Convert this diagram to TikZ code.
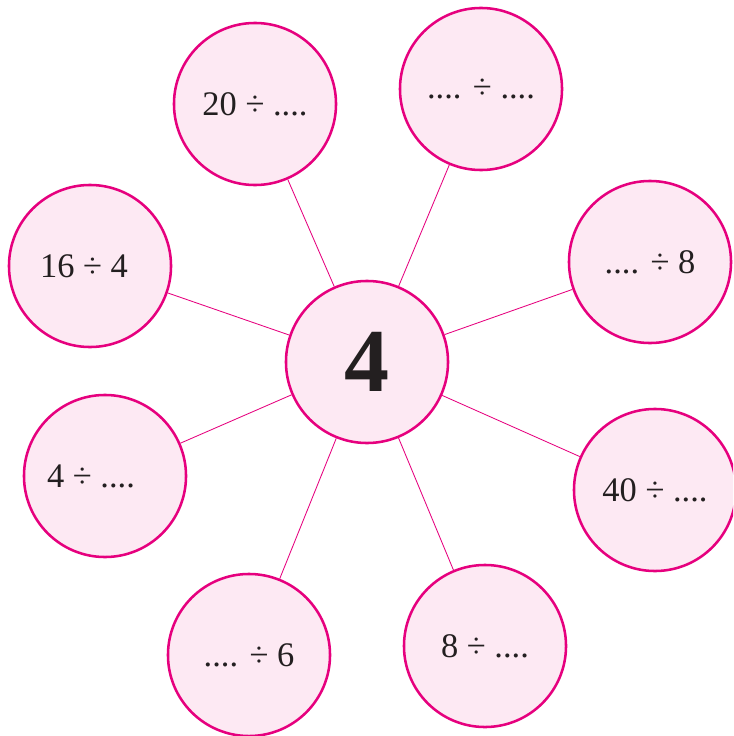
\documentclass[tikz,border=0pt]{standalone}
\usepackage{fontspec}
\setmainfont{Liberation Serif}
\definecolor{rose}{RGB}{230,0,126}
\definecolor{blush}{RGB}{253,233,243}
\definecolor{ink}{RGB}{35,31,32}
\tikzset{
  bubble/.style={circle,draw=rose,fill=blush,line width=1.8pt,minimum size=4.05cm,
    inner sep=0pt,text=ink,font=\fontsize{24.5}{28}\selectfont},
  hub/.style={bubble,font=\fontsize{64}{64}\selectfont\bfseries},
  spoke/.style={draw=rose,line width=0.6pt},
}
\begin{document}
\begin{tikzpicture}[x=0.025cm,y=-0.025cm]
    \clip (0,0) rectangle (733,736);
    \fill[white] (0,0) rectangle (733,736);
    \node[hub] (four) at (367,362) {4};
    \node[bubble] (b20) at (255,104) {20 ÷ ....};
    \node[bubble] (bdd) at (481,89) {.... ÷ ....};
    \node[bubble] (b16) at (90,266) {16 ÷ 4\kern0.3cm};
    \node[bubble] (bd8) at (650,262) {.... ÷ 8};
    \node[bubble] (b4) at (105,476) {4 ÷ ....\kern0.7cm};
    \node[bubble] (b40) at (655,490) {40 ÷ ....};
    \node[bubble] (bd6) at (249,655) {.... ÷ 6};
    \node[bubble] (b8) at (485,646) {8 ÷ ....};
    \foreach \b in {b20,bdd,b16,bd8,b4,b40,bd6,b8}
      \draw[spoke] (four) -- (\b);
  \end{tikzpicture}
\end{document}
